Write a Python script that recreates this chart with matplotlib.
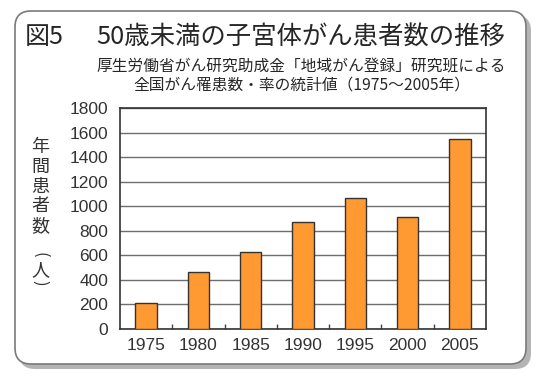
import matplotlib
matplotlib.use("Agg")
import matplotlib.pyplot as plt
from matplotlib.patches import FancyBboxPatch
from matplotlib.ticker import FixedLocator

years = ["1975", "1980", "1985", "1990", "1995", "2000", "2005"]
patients = [210, 468, 625, 875, 1065, 915, 1548]
yticks = [0, 200, 400, 600, 800, 1000, 1200, 1400, 1600, 1800]

title_fig = "図5"
title_main = "50歳未満の子宮体がん患者数の推移"
sub1 = "厚生労働省がん研究助成金「地域がん登録」研究班による"
sub2 = "全国がん罹患数・率の統計値（1975～2005年）"
ylabel_chars = ["年", "間", "患", "者", "数", "(", "人", ")"]
ylabel_pos = [147, 167, 187, 206, 226, 255, 270, 283]

JP = ["Noto Sans CJK JP", "DejaVu Sans"]
NUM = ["Liberation Sans", "DejaVu Sans"]

W, H, DPI = 540, 378, 100
fig = plt.figure(figsize=(W / DPI, H / DPI), dpi=DPI)
fig.patch.set_facecolor("white")

# background panel axes in pixel coordinates
bg = fig.add_axes([0, 0, 1, 1], zorder=0)
bg.set_xlim(0, W)
bg.set_ylim(H, 0)
bg.axis("off")
shadow = FancyBboxPatch((19, 15), 512, 354, boxstyle="round,pad=0,rounding_size=16",
                        facecolor="#b4b4b4", edgecolor="none")
bg.add_patch(shadow)
panel = FancyBboxPatch((15, 11), 511, 353, boxstyle="round,pad=0,rounding_size=16",
                       facecolor="white", edgecolor="#7a7a7a", linewidth=1.2)
bg.add_patch(panel)

# titles
bg.text(25, 37, title_fig, fontsize=18, family=JP, color="#262626", ha="left", va="center")
bg.text(96, 37, title_main, fontsize=18.3, family=JP, color="#262626", ha="left", va="center")
bg.text(96, 67, sub1, fontsize=11.3, family=JP, color="#262626", ha="left", va="center")
bg.text(133, 85, sub2, fontsize=11.3, family=JP, color="#262626", ha="left", va="center")

# vertical y label (brackets rotated for vertical writing)
for ch, yp in zip(ylabel_chars, ylabel_pos):
    if ch in ("(", ")"):
        bg.text(40, yp, ch, fontsize=12, family=JP, color="#333333",
                ha="center", va="center", rotation=-90)
    else:
        bg.text(40, yp, ch, fontsize=13, family=JP, color="#333333",
                ha="center", va="center")

# main chart
ax = fig.add_axes([120 / W, (H - 329) / H, 366 / W, 221 / H], zorder=1)
x = list(range(len(years)))
ax.bar(x, patients, width=0.41, color="#ff9a33", edgecolor="#333333", linewidth=1.0, zorder=3)
ax.set_xlim(-0.5, len(years) - 0.5)
ax.set_ylim(0, 1800)
ax.set_yticks(yticks)
ax.set_yticklabels([str(v) for v in yticks])
ax.set_xticks(x)
ax.set_xticklabels(years)
ax.xaxis.set_minor_locator(FixedLocator([i + 0.5 for i in range(len(years) - 1)]))
ax.tick_params(axis="x", which="minor", direction="in", length=3.8, width=1.0, color="#444444")
ax.tick_params(axis="both", which="major", length=0, labelsize=12.5, labelcolor="#333333")
ax.tick_params(axis="y", pad=8.6)
ax.tick_params(axis="x", pad=6.5)
for lab in ax.get_xticklabels() + ax.get_yticklabels():
    lab.set_family(NUM)
ax.yaxis.grid(True, color="#6e6e6e", linewidth=1.0, zorder=0)
ax.set_axisbelow(True)
for sp in ax.spines.values():
    sp.set_color("#333333")
    sp.set_linewidth(1.2)

fig.savefig("out.png", dpi=DPI)
